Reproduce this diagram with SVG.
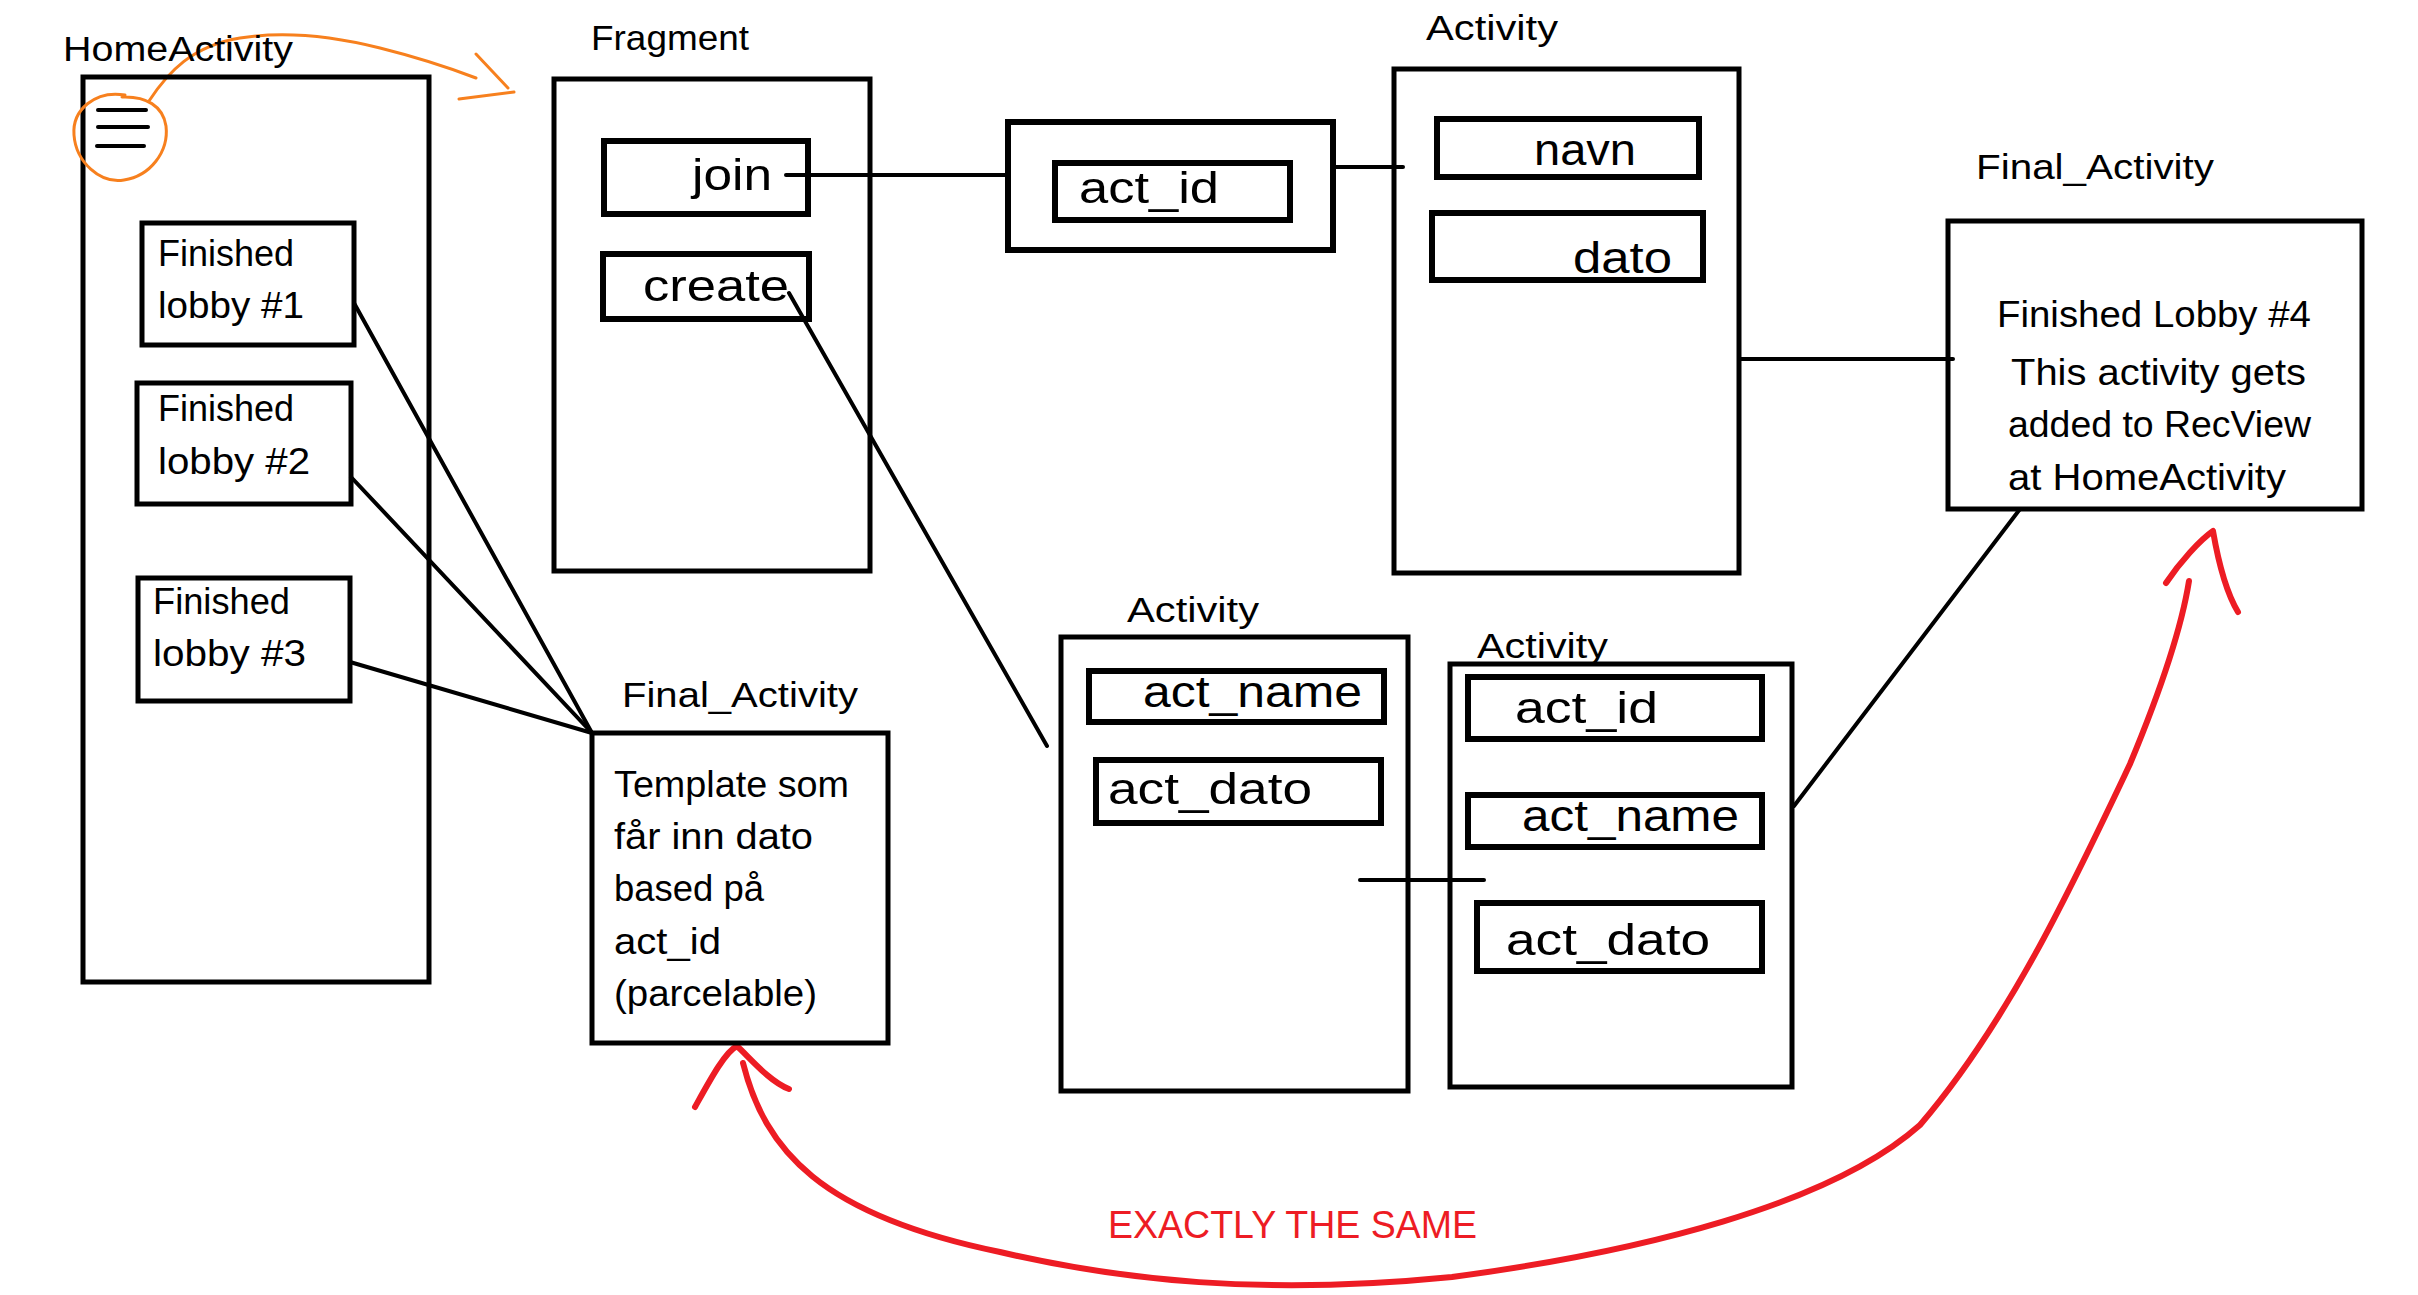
<svg xmlns="http://www.w3.org/2000/svg" width="2418" height="1295" viewBox="0 0 2418 1295">
<style>
  .box { fill: none; stroke: #000; stroke-width: 5; }
  .fld { fill: none; stroke: #000; stroke-width: 6; }
  .ln { fill: none; stroke: #000; stroke-width: 4; stroke-linecap: round; }
  .lbl { font-family: "Liberation Sans", Arial, sans-serif; font-size: 35px; fill: #000; }
  .txt { font-family: "Liberation Sans", Arial, sans-serif; font-size: 37px; fill: #000; }
  .fldt { font-family: "Liberation Sans", Arial, sans-serif; font-size: 45px; fill: #000; }
  .red { fill: none; stroke: #ED1C24; stroke-width: 6; stroke-linecap: round; stroke-linejoin: round; }
  .org { fill: none; stroke: #F7801E; stroke-width: 3; stroke-linecap: round; stroke-linejoin: round; }
</style>
<rect width="2418" height="1295" fill="#fff"/>

<g id="connectors">
  <line class="ln" x1="786" y1="175" x2="1008" y2="175" stroke-width="5"/>
  <line class="ln" x1="1333" y1="167" x2="1403" y2="167" stroke-width="6"/>
  <line class="ln" x1="1739" y1="359" x2="1953" y2="359" stroke-width="6"/>
  <line class="ln" x1="2020" y1="509" x2="1794" y2="806" stroke-width="4"/>
  <line class="ln" x1="789" y1="293" x2="1047" y2="746" stroke-width="4.5"/>
  <line class="ln" x1="354" y1="303" x2="592" y2="733" stroke-width="4"/>
  <line class="ln" x1="351" y1="477" x2="592" y2="733" stroke-width="4"/>
  <line class="ln" x1="350" y1="662" x2="592" y2="733" stroke-width="4.5"/>
  <line class="ln" x1="1360" y1="880" x2="1484" y2="880" stroke-width="6"/>
  <!-- orange annotation arrow -->
  <path class="org" d="M 149 101 C 168 72, 192 46, 240 38 C 290 30, 340 38, 380 48 C 420 58, 450 68, 476 78"/>
  <path class="org" d="M 476 54 L 508 88 M 459 99 L 514 92"/>
  <!-- red "exactly the same" arrow -->
  <path class="red" d="M 743 1063 C 765 1150, 820 1215, 1000 1252 C 1120 1280, 1260 1296, 1452 1277 C 1640 1252, 1830 1205, 1920 1125 C 2010 1020, 2075 880, 2130 764 C 2165 680, 2182 625, 2189 581"/>
  <path class="red" d="M 695 1107 C 710 1080, 725 1052, 737 1046 C 750 1058, 770 1082, 789 1089"/>
  <path class="red" d="M 2166 583 C 2180 562, 2200 540, 2213 531 C 2218 560, 2226 592, 2238 612"/>
</g>

<g id="home-activity">
  <text class="lbl" x="63" y="61" textLength="230" lengthAdjust="spacingAndGlyphs">HomeActivity</text>
  <rect class="box" x="83" y="77" width="346" height="905"/>
  <g id="menu-icon">
    <line class="ln" x1="98" y1="110" x2="146" y2="110" stroke-width="5"/>
    <line class="ln" x1="98" y1="127" x2="148" y2="127" stroke-width="5"/>
    <line class="ln" x1="97" y1="146" x2="144" y2="146" stroke-width="5"/>
    <path class="org" d="M 125 95 C 95 90, 72 110, 74 135 C 76 162, 100 184, 124 180 C 150 176, 169 152, 166 126 C 163 106, 146 96, 122 97"/>
  </g>
</g>

<g id="lobby1">
  <rect class="box" x="142" y="223" width="212" height="122"/>
  <text class="txt" x="158" y="266" textLength="136" lengthAdjust="spacingAndGlyphs">Finished</text>
  <text class="txt" x="158" y="318" textLength="146" lengthAdjust="spacingAndGlyphs">lobby #1</text>
</g>
<g id="lobby2">
  <rect class="box" x="137" y="383" width="214" height="121"/>
  <text class="txt" x="158" y="421" textLength="136" lengthAdjust="spacingAndGlyphs">Finished</text>
  <text class="txt" x="158" y="474" textLength="152" lengthAdjust="spacingAndGlyphs">lobby #2</text>
</g>
<g id="lobby3">
  <rect class="box" x="138" y="578" width="212" height="123"/>
  <text class="txt" x="153" y="614" textLength="137" lengthAdjust="spacingAndGlyphs">Finished</text>
  <text class="txt" x="153" y="666" textLength="153" lengthAdjust="spacingAndGlyphs">lobby #3</text>
</g>

<g id="fragment">
  <text class="lbl" x="591" y="50" textLength="158" lengthAdjust="spacingAndGlyphs">Fragment</text>
  <rect class="box" x="554" y="79" width="316" height="492" stroke-width="6"/>
  <rect class="fld" x="604" y="141" width="204" height="73"/>
  <text class="fldt" x="692" y="190" textLength="80" lengthAdjust="spacingAndGlyphs">join</text>
  <rect class="fld" x="603" y="254" width="206" height="65"/>
  <text class="fldt" x="643" y="301" textLength="146" lengthAdjust="spacingAndGlyphs">create</text>
</g>

<g id="act-id-top">
  <rect class="fld" x="1008" y="122" width="325" height="128"/>
  <rect class="fld" x="1055" y="163" width="235" height="57"/>
  <text class="fldt" x="1079" y="203" textLength="140" lengthAdjust="spacingAndGlyphs">act_id</text>
</g>

<g id="activity-top">
  <text class="lbl" x="1426" y="40" textLength="132" lengthAdjust="spacingAndGlyphs">Activity</text>
  <rect class="box" x="1394" y="69" width="345" height="504" stroke-width="6"/>
  <rect class="fld" x="1437" y="119" width="262" height="58"/>
  <text class="fldt" x="1534" y="165" textLength="102" lengthAdjust="spacingAndGlyphs">navn</text>
  <rect class="fld" x="1432" y="213" width="271" height="67"/>
  <text class="fldt" x="1573" y="273" textLength="99" lengthAdjust="spacingAndGlyphs">dato</text>
</g>

<g id="final-activity-right">
  <text class="lbl" x="1976" y="179" textLength="238" lengthAdjust="spacingAndGlyphs">Final_Activity</text>
  <rect class="box" x="1948" y="221" width="414" height="288" stroke-width="6"/>
  <text class="txt" x="1997" y="327" textLength="314" lengthAdjust="spacingAndGlyphs">Finished Lobby #4</text>
  <text class="txt" x="2011" y="385" textLength="295" lengthAdjust="spacingAndGlyphs">This activity gets</text>
  <text class="txt" x="2008" y="437" textLength="303" lengthAdjust="spacingAndGlyphs">added to RecView</text>
  <text class="txt" x="2008" y="490" textLength="278" lengthAdjust="spacingAndGlyphs">at HomeActivity</text>
</g>

<g id="final-activity-left">
  <text class="lbl" x="622" y="707" textLength="236" lengthAdjust="spacingAndGlyphs">Final_Activity</text>
  <rect class="box" x="592" y="733" width="296" height="310"/>
  <text class="txt" x="614" y="797" textLength="235" lengthAdjust="spacingAndGlyphs">Template som</text>
  <text class="txt" x="614" y="849" textLength="199" lengthAdjust="spacingAndGlyphs">får inn dato</text>
  <text class="txt" x="614" y="901" textLength="150" lengthAdjust="spacingAndGlyphs">based på</text>
  <text class="txt" x="614" y="954" textLength="107" lengthAdjust="spacingAndGlyphs">act_id</text>
  <text class="txt" x="614" y="1006" textLength="203" lengthAdjust="spacingAndGlyphs">(parcelable)</text>
</g>

<g id="activity-bottom-left">
  <text class="lbl" x="1127" y="622" textLength="132" lengthAdjust="spacingAndGlyphs">Activity</text>
  <rect class="box" x="1061" y="637" width="347" height="454" stroke-width="6"/>
  <rect class="fld" x="1089" y="671" width="295" height="51"/>
  <text class="fldt" x="1143" y="707" textLength="219" lengthAdjust="spacingAndGlyphs">act_name</text>
  <rect class="fld" x="1096" y="760" width="285" height="63"/>
  <text class="fldt" x="1108" y="804" textLength="204" lengthAdjust="spacingAndGlyphs">act_dato</text>
</g>

<g id="activity-bottom-right">
  <text class="lbl" x="1477" y="658" textLength="131" lengthAdjust="spacingAndGlyphs">Activity</text>
  <rect class="box" x="1450" y="664" width="342" height="423" stroke-width="6"/>
  <rect class="fld" x="1468" y="677" width="294" height="62"/>
  <text class="fldt" x="1515" y="723" textLength="143" lengthAdjust="spacingAndGlyphs">act_id</text>
  <rect class="fld" x="1468" y="795" width="294" height="52"/>
  <text class="fldt" x="1522" y="831" textLength="217" lengthAdjust="spacingAndGlyphs">act_name</text>
  <rect class="fld" x="1477" y="903" width="285" height="68"/>
  <text class="fldt" x="1506" y="955" textLength="204" lengthAdjust="spacingAndGlyphs">act_dato</text>
</g>

<g id="note">
  <text x="1108" y="1238" font-family="Liberation Sans, Arial, sans-serif" font-size="38" fill="#ED1C24" textLength="369" lengthAdjust="spacingAndGlyphs">EXACTLY THE SAME</text>
</g>
</svg>
